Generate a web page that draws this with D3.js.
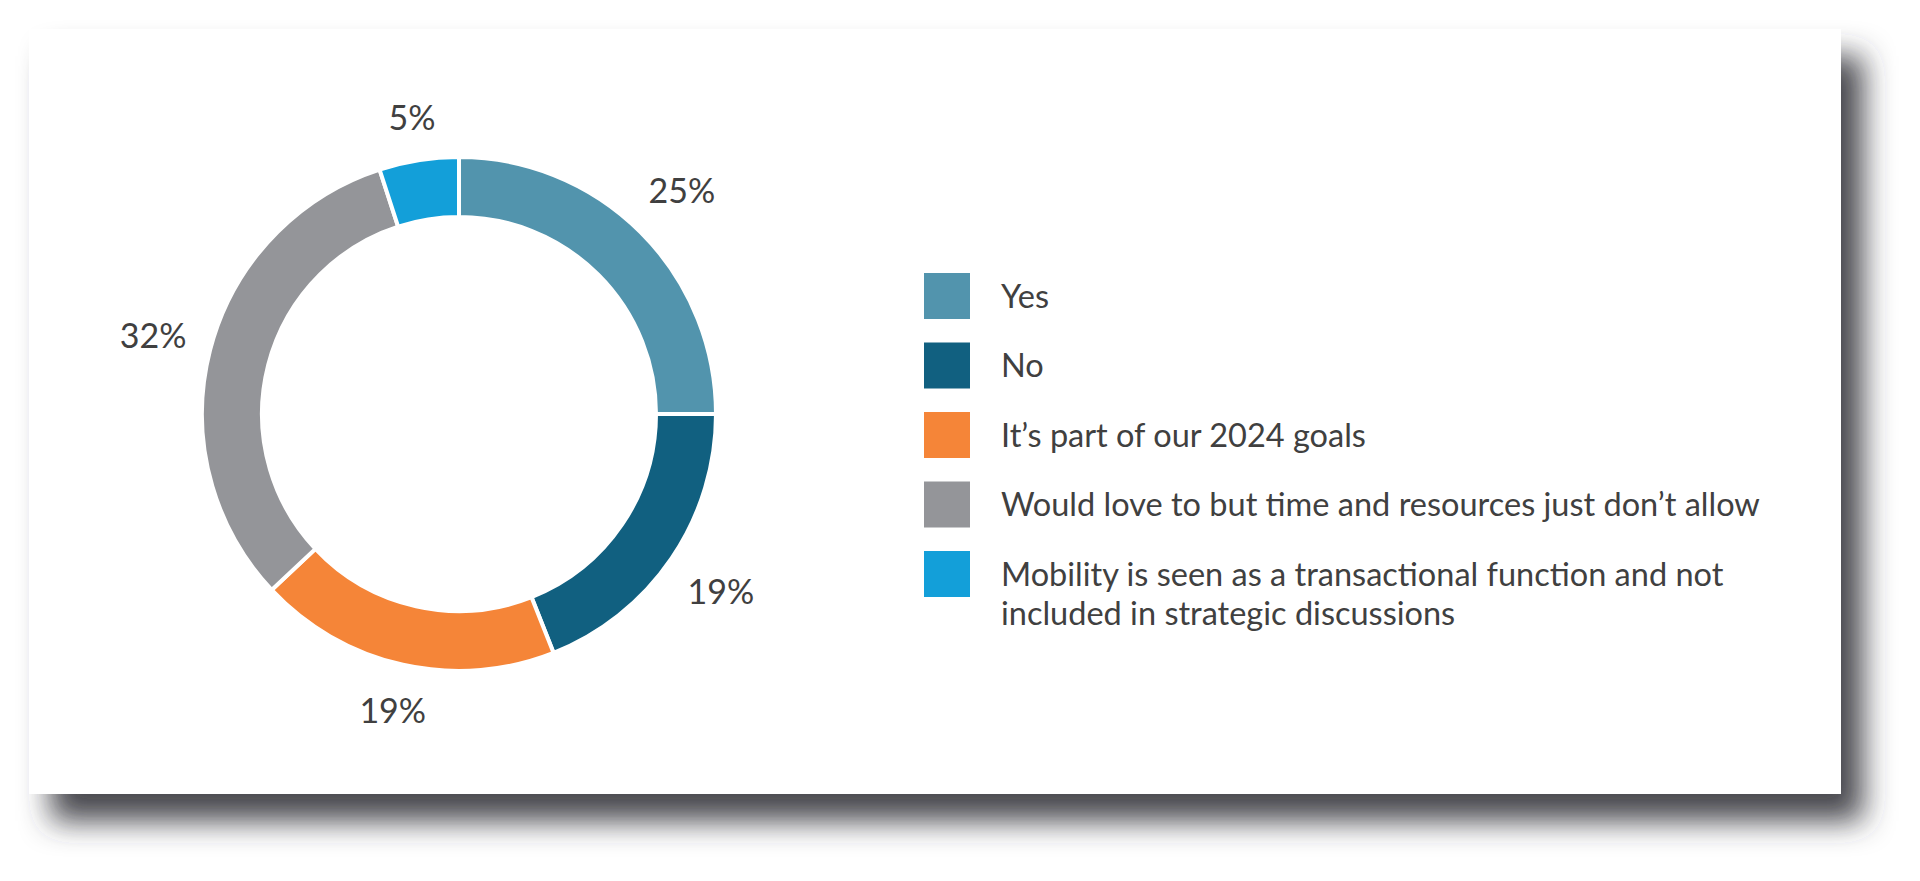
<!DOCTYPE html>
<html>
<head>
<meta charset="utf-8">
<script src="https://cdn.jsdelivr.net/npm/d3@7"></script>
<style>
  body { margin: 0; background: #ffffff; }
  svg { display: block; }
</style>
</head>
<body>
<svg id="canvas" width="1920" height="881"></svg>
<script>
// chart values
const categories = [
  'Yes',
  'No',
  'It\u2019s part of our 2024 goals',
  'Would love to but time and resources just don\u2019t allow',
  'Mobility is seen as a transactional function and not included in strategic discussions'
]
const values = [25, 19, 19, 32, 5]
const colors = ['#5294ad', '#116080', '#f58538', '#949599', '#139fd9']

const svg = d3.select('#canvas')
const textColor = '#404040'
const font = 'Lato, "Open Sans", sans-serif'

// drop shadow for the white card
const defs = svg.append('defs')
defs.append('filter')
  .attr('id', 'shadow')
  .attr('x', '-5%').attr('y', '-5%')
  .attr('width', '115%').attr('height', '130%')
  .append('feDropShadow')
  .attr('dx', 22)
  .attr('dy', 27)
  .attr('stdDeviation', 15)
  .attr('flood-color', '#34353a')
  .attr('flood-opacity', 0.9)

svg.append('rect')
  .attr('x', 29)
  .attr('y', 29)
  .attr('width', 1812)
  .attr('height', 765)
  .attr('fill', '#ffffff')
  .attr('filter', 'url(#shadow)')

// donut
const cx = 459, cy = 414
const outerR = 257, innerR = 197

const pie = d3.pie().sort(null).value(d => d)
const arcs = pie(values)
const arc = d3.arc().innerRadius(innerR).outerRadius(outerR)

const g = svg.append('g').attr('transform', `translate(${cx},${cy})`)

g.selectAll('path.slice')
  .data(arcs)
  .enter()
  .append('path')
  .attr('class', 'slice')
  .attr('d', arc)
  .attr('fill', (d, i) => colors[i])
  .attr('stroke', '#ffffff')
  .attr('stroke-width', 4)

// percentage labels outside the ring
g.selectAll('text.pct')
  .data(arcs)
  .enter()
  .append('text')
  .attr('class', 'pct')
  .attr('text-anchor', 'middle')
  .attr('dy', '0.36em')
  .style('font-family', font)
  .style('font-size', '34px')
  .attr('fill', textColor)
  .text(d => `${d.data}%`)
  .each(function(d) {
    const box = this.getBBox()
    const a = (d.startAngle + d.endAngle) / 2
    const ext = Math.abs(Math.sin(a)) * box.width / 2 + Math.abs(Math.cos(a)) * 18
    const r = outerR + 22 + ext
    d3.select(this)
      .attr('x', Math.sin(a) * r)
      .attr('y', -Math.cos(a) * r)
  })

// legend
const legendX = 924, legendY = 273, legendStep = 69.5, swatch = 46
const textX = 1001, wrapWidth = 800, lineHeight = 39

const legend = svg.append('g')
categories.forEach(function(name, i) {
  const y = legendY + i * legendStep
  legend.append('rect')
    .attr('x', legendX)
    .attr('y', y)
    .attr('width', swatch)
    .attr('height', swatch)
    .attr('fill', colors[i])

  const text = legend.append('text')
    .attr('x', textX)
    .attr('y', y + swatch / 2)
    .attr('dy', '0.36em')
    .style('font-family', font)
    .style('font-size', '32.5px')
    .attr('fill', textColor)

  // simple word wrap
  const words = name.split(' ')
  let line = []
  let tspan = text.append('tspan').attr('x', textX)
  words.forEach(function(w) {
    line.push(w)
    tspan.text(line.join(' '))
    if (tspan.node().getComputedTextLength() > wrapWidth && line.length > 1) {
      line.pop()
      tspan.text(line.join(' '))
      line = [w]
      tspan = text.append('tspan')
        .attr('x', textX)
        .attr('dy', lineHeight)
        .text(w)
    }
  })
})
</script>
</body>
</html>
